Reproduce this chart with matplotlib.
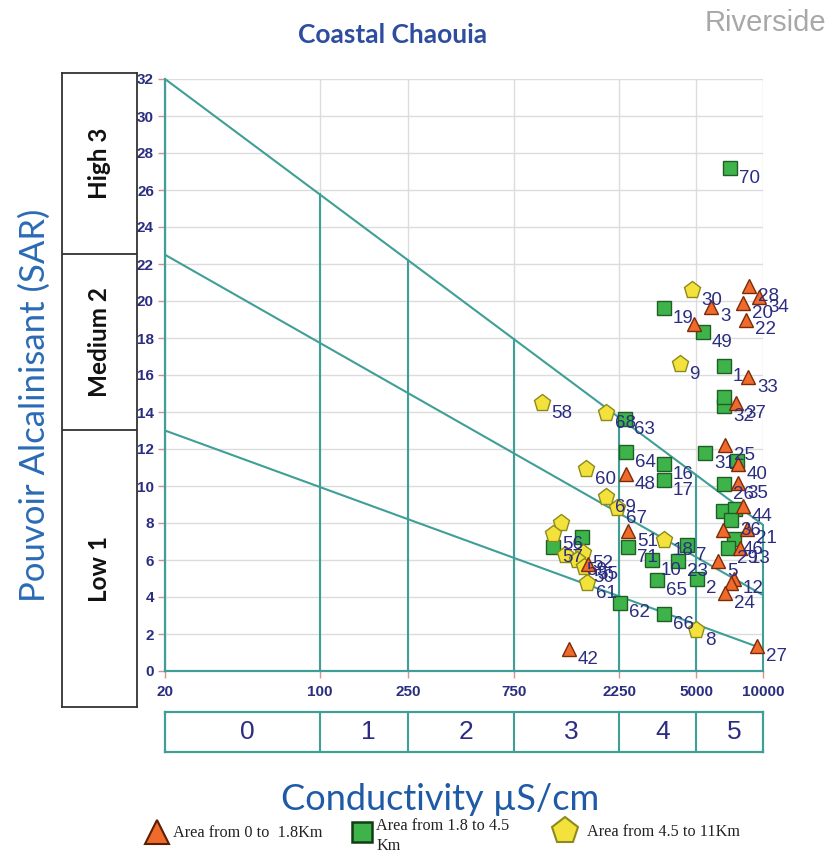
import numpy as np
import matplotlib
matplotlib.use("Agg")
import matplotlib.pyplot as plt
from matplotlib.ticker import NullLocator

W, H, DPI = 828, 858, 100

# ---------------- data ----------------
# Area from 0 to 1.8 km (triangles)
tri_labels = ["28", "34", "20", "22", "3", "", "33", "37", "25", "40", "35", "44",
              "48", "51", "21", "", "13", "5", "12", "", "24", "27", "42", "55"]
tri_ec = [8630, 9580, 8110, 8370, 5820, 4880, 8550, 7550, 6730, 7710, 7710, 8110,
          2405, 2457, 8450, 6570, 7900, 6260, 7390, 7170, 6730, 9380, 1331, 1622]
tri_sar = [20.8, 20.2, 19.9, 19.0, 19.7, 18.75, 15.9, 14.5, 12.2, 11.2, 10.15, 8.9,
           10.65, 7.55, 7.7, 7.6, 6.65, 5.95, 5.0, 4.75, 4.2, 1.35, 1.2, 5.8]

# Area from 1.8 to 4.5 km (squares)
sq_labels = ["70", "19", "49", "1", "32", "", "63", "64", "16", "17", "31", "",
             "26", "", "", "36", "46", "29", "71", "10", "7", "23", "2", "65",
             "62", "66", "57", ""]
sq_ec = [7090, 3570, 5350, 6660, 6660, 6660, 2380, 2405, 3570, 3570, 5470, 7630,
         6660, 6590, 7470, 7170, 7390, 6950, 2457, 3150, 4535, 4130, 5030, 3320,
         2260, 3570, 1127, 1523]
sq_sar = [27.2, 19.6, 18.3, 16.5, 14.3, 14.8, 13.6, 11.85, 11.2, 10.3, 11.8, 11.35,
          10.1, 8.65, 8.75, 8.15, 7.15, 6.65, 6.7, 6.0, 6.8, 5.95, 5.0, 4.9,
          3.7, 3.1, 6.7, 7.25]

# Area from 4.5 to 11 km (pentagons)
pe_labels = ["30", "9", "58", "68", "60", "69", "67", "18", "8", "", "56", "52",
             "", "59", "61", "50"]
pe_ec = [4780, 4220, 1005, 1955, 1588, 1955, 2192, 3570, 4980, 1225, 1127, 1540,
         1277, 1446, 1604, 1560]
pe_sar = [20.6, 16.6, 14.5, 13.95, 10.9, 9.4, 8.8, 7.1, 2.2, 8.0, 7.4, 6.4,
          6.27, 6.0, 4.75, 5.6]

# Classification boundaries (SAR at EC = 20 and EC = 10000)
bound_ec = [20, 10000]
bound_low = [13.0, 1.2]
bound_mid = [22.5, 4.1]
bound_high = [32.0, 7.9]

cond_edges = [20, 100, 250, 750, 2250, 5000, 10000]
cond_classes = ["0", "1", "2", "3", "4", "5"]
sar_edges = [-1.95, 13.0, 22.5, 32.3]
sar_classes = ["Low 1", "Medium 2", "High 3"]
sar_ticks = list(range(0, 33, 2))

# ---------------- styling ----------------
TEAL = "#3f9f96"
NAVY = "#2b2d80"
GRID = "#dcdcdc"

fig = plt.figure(figsize=(W / DPI, H / DPI), dpi=DPI)
fig.patch.set_facecolor("white")

ax = fig.add_axes([165 / W, 1 - 671 / H, 598 / W, 592 / H])
ax.set_xscale("log")
ax.set_xlim(cond_edges[0], cond_edges[-1])
ax.set_ylim(0, 32)
ax.xaxis.set_minor_locator(NullLocator())
ax.set_xticks(cond_edges)
ax.set_xticklabels([str(v) for v in cond_edges])
ax.set_yticks(sar_ticks)
ax.tick_params(axis="both", color="#d89090", length=5, width=1,
               labelcolor=NAVY, labelsize=11)
ax.tick_params(axis="x", pad=5)
ax.tick_params(axis="y", pad=3)
for lab in ax.get_xticklabels() + ax.get_yticklabels():
    lab.set_fontweight("bold")
    lab.set_family("Liberation Sans")
ax.grid(True, color=GRID, lw=1.0, zorder=0)
ax.set_axisbelow(True)
for s in ["top", "right"]:
    ax.spines[s].set_visible(False)
for s in ["left", "bottom"]:
    ax.spines[s].set_color(TEAL)
    ax.spines[s].set_linewidth(1.6)

# boundary lines
for b in (bound_low, bound_mid, bound_high):
    ax.plot(bound_ec, b, color=TEAL, lw=1.5, zorder=2)

# vertical lines up to the top boundary
lg = np.log10(bound_ec)
for e in cond_edges[1:]:
    top = np.interp(np.log10(e), lg, bound_high)
    ax.plot([e, e], [0, top], color=TEAL, lw=1.5, zorder=2, clip_on=False)

# points
def draw(ecs, sars, labels, marker, fc, ec, ms):
    ax.plot(ecs, sars, ls="none", marker=marker, mfc=fc, mec=ec, mew=1.0,
            ms=ms, zorder=5, clip_on=False)
    for x, y, t in zip(ecs, sars, labels):
        if t:
            ax.annotate(t, (x, y), xytext=(6.5, -7.5), textcoords="offset points",
                        ha="left", va="center", fontsize=13.5, color=NAVY,
                        family="Liberation Sans", zorder=6, annotation_clip=False)

draw(sq_ec, sq_sar, sq_labels, "s", "#3db34a", "#1f5e25", 9.5)
draw(pe_ec, pe_sar, pe_labels, "p", "#f3e23c", "#8c8a1c", 12.5)
draw(tri_ec, tri_sar, tri_labels, "^", "#f06a2c", "#7a2c0a", 10.5)

# conductivity class boxes
axc = fig.add_axes([165 / W, 1 - 752 / H, 598 / W, 40 / H])
axc.set_xscale("log")
axc.set_xlim(cond_edges[0], cond_edges[-1])
axc.set_ylim(0, 1)
axc.set_xticks([])
axc.set_yticks([])
axc.xaxis.set_minor_locator(NullLocator())
for s in axc.spines.values():
    s.set_color(TEAL)
    s.set_linewidth(1.6)
for e in cond_edges[1:-1]:
    axc.axvline(e, color=TEAL, lw=1.5)
for a, b, t in zip(cond_edges[:-1], cond_edges[1:], cond_classes):
    axc.text(np.sqrt(a * b) * 1.05, 0.5, t, ha="center", va="center", fontsize=19,
             color=NAVY, family="Liberation Sans")

# SAR class boxes
axs = fig.add_axes([62 / W, 1 - 707 / H, 75 / W, 634 / H])
axs.set_xlim(0, 1)
axs.set_ylim(sar_edges[0], sar_edges[-1])
axs.set_xticks([])
axs.set_yticks([])
for s in axs.spines.values():
    s.set_color("#333333")
    s.set_linewidth(1.3)
for e in sar_edges[1:-1]:
    axs.axhline(e, color="#333333", lw=1.3)
for a, b, t in zip(sar_edges[:-1], sar_edges[1:], sar_classes):
    axs.text(0.5, (a + b) / 2, t, rotation=90, ha="center", va="center",
             fontsize=17.5, fontweight="bold", color="#111111", family="Lato")

# titles and labels
fig.text(393 / W, 1 - 35 / H, "Coastal Chaouia", ha="center", va="center",
         fontsize=19, fontweight="bold", color="#2e4ca0", family="Lato")
fig.text(826 / W, 1 - 23 / H, "Riverside", ha="right", va="center",
         fontsize=21, color="#a8a8a8", family="Liberation Sans")
fig.text(35 / W, 1 - 405 / H, "Pouvoir Alcalinisant (SAR)", rotation=90,
         ha="center", va="center", fontsize=25, color="#2a6bb5", family="Lato")
fig.text(440 / W, 1 - 800 / H, "Conductivity µS/cm", ha="center", va="center",
         fontsize=26, color="#1f5aa6", family="Lato")

# legend
axl = fig.add_axes([0, 0, 1, 1], facecolor="none")
axl.set_xlim(0, W)
axl.set_ylim(H, 0)
axl.axis("off")
axl.plot([157], [832], marker="^", ms=17, mfc="#f06a2c", mec="#5a1e05", mew=1.5, ls="none")
axl.text(173, 833, "Area from 0 to  1.8Km", ha="left", va="center", fontsize=11.7,
         family="Liberation Serif", color="#222222")
axl.plot([362], [832], marker="s", ms=15, mfc="#3db34a", mec="#103d15", mew=1.8, ls="none")
axl.text(376, 826, "Area from 1.8 to 4.5", ha="left", va="center", fontsize=11.7,
         family="Liberation Serif", color="#222222")
axl.text(376, 846, "Km", ha="left", va="center", fontsize=11.7,
         family="Liberation Serif", color="#222222")
axl.plot([565], [831], marker="p", ms=20, mfc="#f3e23c", mec="#8c8a1c", mew=1.5, ls="none")
axl.text(587, 832, "Area from 4.5 to 11Km", ha="left", va="center", fontsize=11.7,
         family="Liberation Serif", color="#222222")

fig.savefig("out.png", dpi=DPI)
